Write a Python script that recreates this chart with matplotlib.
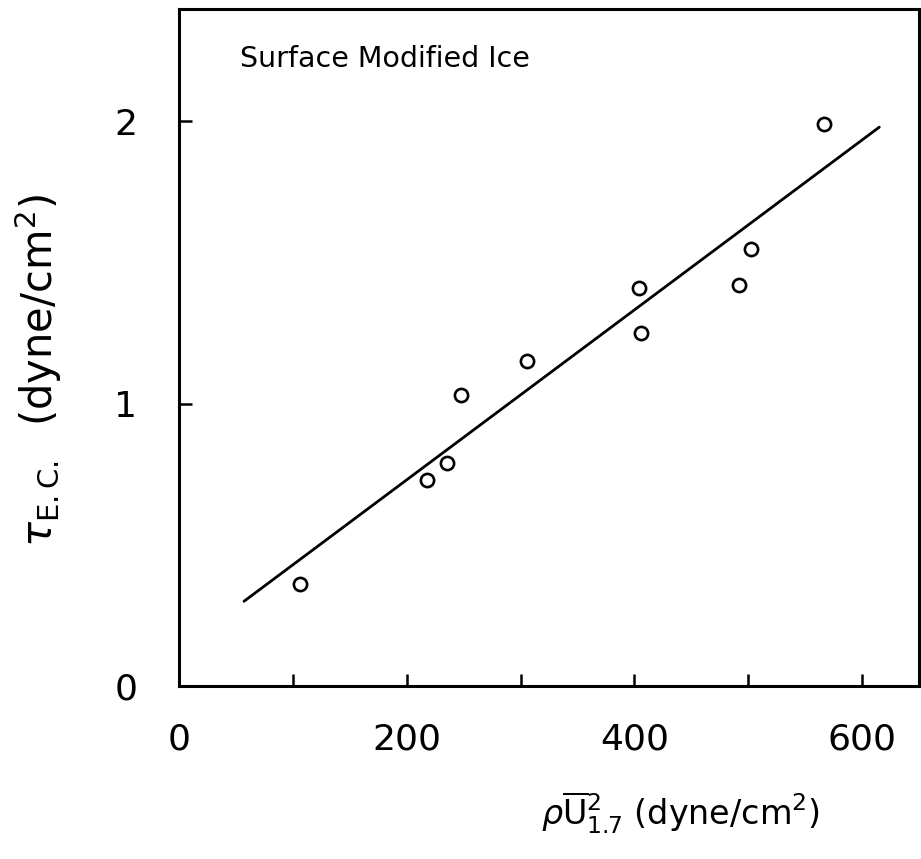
import numpy as np
import matplotlib
matplotlib.use("Agg")
import matplotlib.pyplot as plt


# =========================
# data
# =========================
rho_u2 = [106, 218, 235, 248, 306, 404, 406, 492, 502, 566]
tau_ec = [0.36, 0.73, 0.79, 1.03, 1.15, 1.41, 1.25, 1.42, 1.55, 1.99]

# fitted line end points
fit_x = [57, 615]
fit_y = [0.30, 1.98]

x_major = [0, 200, 400, 600]
x_minor = [100, 300, 500]
y_major = [0, 1, 2]


# =========================
# plotting
# =========================
plt.rcParams["font.family"] = ["DejaVu Sans"]
plt.rcParams["mathtext.fontset"] = "dejavusans"

fig = plt.figure(figsize=(9.21, 8.59), dpi=100)
ax = fig.add_axes([0.1944, 0.2014, 0.8036, 0.7886])

ax.plot(fit_x, fit_y, color="black", linewidth=2.0, solid_capstyle="round")
ax.plot(rho_u2, tau_ec, linestyle="none", marker="o", markersize=9.5,
        markerfacecolor="white", markeredgecolor="black", markeredgewidth=1.9)

ax.set_xlim(0, 650)
ax.set_ylim(0, 2.40)

ax.set_xticks(x_major)
ax.set_xticks(x_minor, minor=True)
ax.set_yticks(y_major)
ax.set_xticklabels([str(v) for v in x_major])
ax.set_yticklabels([str(v) for v in y_major])

ax.tick_params(axis="both", which="both", direction="in", width=1.8,
               labelsize=26, top=False, right=False)
ax.tick_params(axis="both", which="major", length=9)
ax.tick_params(axis="x", which="minor", length=9)
ax.tick_params(axis="x", which="major", pad=26)
ax.tick_params(axis="y", which="major", pad=30)

for s in ax.spines.values():
    s.set_linewidth(2.2)

ax.text(0.083, 0.925, "Surface Modified Ice", transform=ax.transAxes,
        fontsize=20.5, ha="left", va="center")

ax.text(-0.19, 0.465, r"$\tau_{\rm E.C.}$  (dyne/cm$^2$)", transform=ax.transAxes,
        rotation=90, fontsize=30, ha="center", va="center")

ax.text(0.678, -0.187, r"$\rho\overline{\rm U}^{2}_{1.7}$ (dyne/cm$^2$)",
        transform=ax.transAxes, fontsize=24, ha="center", va="center")

fig.savefig("out.png", dpi=100)
plt.close(fig)
